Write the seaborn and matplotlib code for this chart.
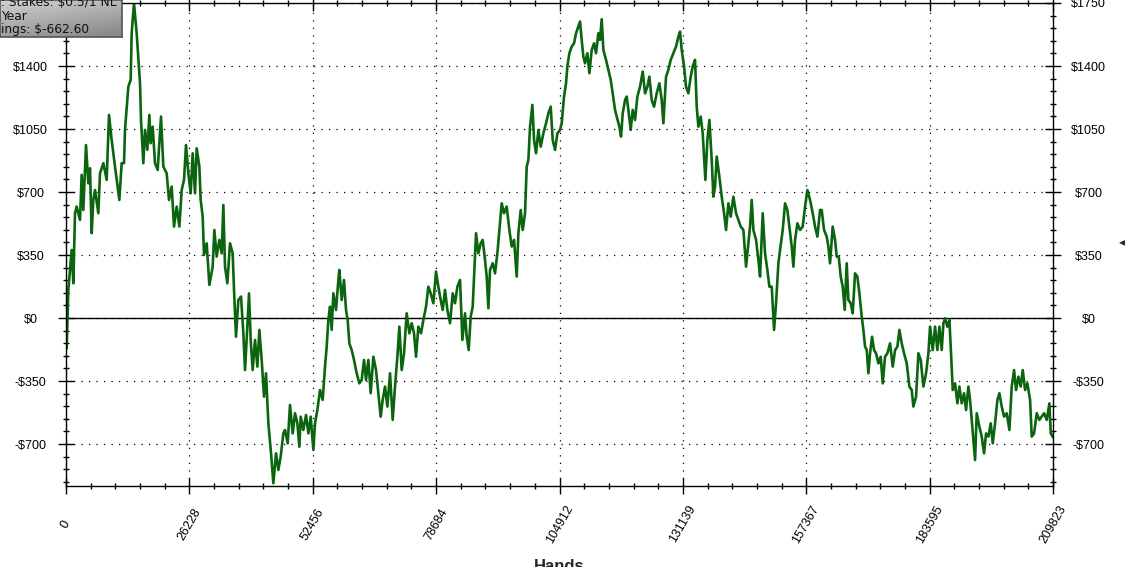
import matplotlib
matplotlib.use("Agg")
import numpy as np
import pandas as pd
import matplotlib.pyplot as plt
import seaborn as sns

# cumulative winnings (hands played, dollars won)
hands = [
    0, 141, 496, 1204, 1559, 1913, 2268, 2976, 3331, 3685, 4252, 4748, 5102, 5457, 5811, 6165,
    6874, 7228, 7937, 8646, 9142, 9709, 10418, 11339, 11835, 12331, 12544, 13252, 13748, 13961,
    14457, 15024, 15733, 15945, 16442, 16796, 17292, 17717, 18001, 18426, 18922, 19489, 20198,
    20694, 21402, 21898, 22465, 22962, 23529, 24096, 24592, 25088, 25513, 26009, 26506, 26931,
    27427, 27781, 28348, 28631, 29056, 29340, 29907, 30474, 31182, 31537, 32033, 32600, 33096,
    33450, 33805, 34301, 34868, 35435, 35718, 36143, 36639, 37206, 37703, 38057, 38553, 38907,
    39262, 39687, 40183, 40680, 41105, 41601, 42097, 42522, 43020, 43587, 44081, 44648, 45144,
    45640, 46207, 46561, 47128, 47624, 48191, 48687, 49183, 49609, 49892, 50459, 51026, 51522,
    52018, 52585, 52940, 53436, 54003, 54567, 55063, 55418, 55772, 56126, 56481, 56835, 57402,
    57898, 58111, 58607, 59103, 59528, 59882, 60237, 60733, 61229, 61796, 62363, 62859, 63355,
    63780, 64276, 64772, 65339, 65906, 66402, 66898, 67324, 67820, 68316, 68883, 69450, 69946,
    70442, 70867, 71363, 71859, 72426, 72993, 73489, 73985, 74411, 74907, 75474, 75970, 76537,
    77033, 77529, 78096, 78663, 79159, 79655, 80080, 80576, 81072, 81639, 82206, 82702, 83199,
    83766, 84262, 84829, 85183, 85608, 86033, 86459, 86742, 87167, 87663, 88159, 88585, 89081,
    89435, 89790, 90144, 90711, 91207, 91703, 92128, 92625, 93121, 93688, 94254, 94750, 95246,
    95813, 96168, 96664, 97089, 97585, 97940, 98294, 98648, 99144, 99499, 99924, 100420, 100916,
    101483, 102050, 102546, 103042, 103467, 103963, 104460, 105027, 105378, 105874, 106300,
    106583, 107008, 107504, 108001, 108426, 108922, 109276, 109631, 109985, 110339, 110835,
    111261, 111757, 112253, 112678, 113174, 113528, 113883, 114237, 114804, 115300, 115796,
    116221, 116718, 117072, 117639, 117993, 118348, 118844, 119198, 119552, 120048, 120474,
    120970, 121466, 122033, 122600, 123096, 123592, 124017, 124513, 125009, 125576, 126143,
    126639, 126994, 127561, 128057, 128553, 129120, 129687, 130183, 130537, 130892, 131388,
    131813, 132309, 132805, 133230, 133726, 134081, 134435, 134931, 135356, 135640, 135923,
    136349, 136774, 137270, 137624, 137979, 138333, 138900, 139396, 139892, 140317, 140813,
    141309, 141876, 142443, 142939, 143436, 144003, 144569, 145066, 145420, 145774, 146129,
    146696, 147192, 147546, 148113, 148609, 149105, 149530, 150027, 150523, 150948, 151444,
    151798, 152365, 152861, 153357, 153783, 154279, 154633, 154988, 155484, 156050, 156617,
    157113, 157610, 158177, 158743, 159240, 159736, 160303, 160654, 161151, 161718, 162072,
    162426, 162993, 163489, 163844, 164269, 164694, 165119, 165544, 165970, 166324, 166820,
    167245, 167741, 168238, 168663, 169159, 169513, 169868, 170222, 170576, 170931, 171356,
    171781, 172206, 172702, 173198, 173624, 174120, 174616, 175183, 175750, 176246, 176742,
    177167, 177663, 178159, 178726, 179293, 179789, 180144, 180711, 181207, 181703, 182270,
    182837, 183333, 183687, 184254, 184750, 185246, 185672, 186168, 186522, 186876, 187372,
    187798, 188081, 188506, 189002, 189499, 189924, 190420, 190916, 191341, 191837, 192192,
    192546, 192900, 193255, 193609, 194176, 194672, 195168, 195593, 196090, 196586, 197011,
    197507, 198003, 198428, 198924, 199420, 199987, 200554, 201050, 201546, 201972, 202468,
    202964, 203389, 203885, 204381, 204948, 205302, 205798, 206366, 206932, 207429, 207925,
    208492, 209059, 209342, 209823,
]
winnings = [
    0, -168, 156, 378, 193, 582, 619, 545, 795, 600, 961, 748, 832, 471, 656, 711,
    582, 804, 860, 767, 1128, 989, 841, 656, 860, 860, 1045, 1285, 1323, 1582,
    1748, 1582, 1304, 1100, 860, 1045, 934, 1128, 971, 1063, 860, 823, 1119,
    841, 804, 656, 730, 508, 619, 508, 711, 767, 961, 804, 693, 915,
    693, 943, 841, 656, 563, 350, 415, 184, 285, 489, 341, 434, 359,
    628, 285, 193, 415, 359, 156, -104, 100, 119, -85, -289, -48, 137,
    -122, -289, -122, -270, -66, -233, -437, -307, -585, -752, -918, -752, -844,
    -770, -641, -622, -696, -483, -641, -529, -585, -715, -548, -622, -539, -641,
    -548, -733, -585, -511, -400, -455, -270, -159, -11, 63, -66, 137, 45,
    211, 267, 100, 211, 45, -11, -141, -178, -233, -307, -363, -344, -233,
    -344, -233, -418, -215, -289, -418, -548, -455, -381, -492, -307, -566, -381,
    -215, -48, -289, -196, 26, -85, -29, -85, -215, -48, -85, -11, 63,
    174, 137, 82, 258, 174, 100, 45, 156, 45, -29, 137, 82, 174,
    211, -122, 26, -104, -178, 8, 63, 230, 471, 359, 415, 434, 322,
    230, 54, 267, 304, 248, 359, 489, 637, 582, 619, 489, 397, 434,
    230, 471, 600, 489, 582, 841, 878, 1063, 1184, 989, 915, 1045, 952,
    1026, 1082, 1137, 1174, 989, 934, 1026, 1045, 1082, 1230, 1304,
    1397, 1471, 1508, 1526, 1582, 1619, 1647, 1545, 1452, 1415, 1471,
    1360, 1489, 1526, 1471, 1582, 1545, 1660, 1489, 1434, 1378, 1323,
    1248, 1156, 1119, 1063, 1008, 1137, 1211, 1230, 1156, 1045, 1156,
    1100, 1230, 1285, 1369, 1248, 1285, 1341, 1211, 1174, 1248, 1304,
    1211, 1082, 1341, 1378, 1434, 1471, 1508, 1563, 1591, 1489, 1397,
    1285, 1248, 1341, 1397, 1434, 1174, 1063, 1119, 1026, 897, 767,
    989, 1100, 878, 674, 730, 897, 785, 674, 582, 489, 637,
    563, 674, 582, 545, 508, 489, 285, 415, 508, 656, 489,
    434, 322, 230, 582, 359, 267, 174, 174, -66, 82, 304,
    378, 489, 637, 600, 508, 397, 285, 434, 526, 489, 508,
    619, 711, 656, 582, 508, 452, 600, 600, 489, 452, 397,
    304, 508, 434, 341, 341, 230, 174, 45, 304, 100, 82,
    26, 248, 230, 137, 8, -66, -159, -178, -307, -196, -104,
    -178, -196, -252, -215, -363, -215, -196, -141, -270, -178, -159,
    -66, -141, -196, -252, -381, -400, -492, -437, -196, -233, -381,
    -307, -196, -48, -178, -48, -178, -48, -178, -29, -2, -48,
    -11, -159, -400, -363, -474, -381, -474, -418, -511, -381, -455,
    -566, -678, -789, -529, -604, -659, -752, -641, -659, -585, -696,
    -585, -455, -418, -492, -548, -529, -622, -381, -289, -400, -326,
    -381, -289, -400, -363, -455, -659, -641, -529, -566, -548, -529,
    -566, -474, -641, -662.6,
]

x_ticks = [0, 26228, 52456, 78684, 104912, 131139, 157367, 183595, 209823]
x_labels = ["0", "26228", "52456", "78684", "104912", "131139", "157367", "183595", "209823"]
y_ticks = [-700, -350, 0, 350, 700, 1050, 1400, 1750]
y_labels = ["-$700", "-$350", "$0", "$350", "$700", "$1050", "$1400", "$1750"]
info_lines = [": Stakes: $0.5/1 NL", "Year", "ings: $-662.60"]

df = pd.DataFrame({"Hands": hands, "Winnings": winnings})

sns.set_theme(style="white")
plt.rcParams["font.family"] = ["Liberation Sans", "DejaVu Sans"]

fig = plt.figure(figsize=(11.25, 5.67), dpi=100)
ax = fig.add_axes([66 / 1125, 1 - 486 / 567, (1053 - 66) / 1125, (486 - 3) / 567])

sns.lineplot(data=df, x="Hands", y="Winnings", ax=ax, color="#0b650f", linewidth=1.9)
ax.axhline(0, color="black", linewidth=1, zorder=1)

ax.set_xlim(0, 209823)
ax.set_ylim(-933.3, 1750)
ax.set_xticks(x_ticks)
ax.set_xticklabels(x_labels)
ax.set_yticks(y_ticks)
ax.set_yticklabels(y_labels)
ax.set_xticks(np.arange(0, 209824, 209823 / 40), minor=True)
ax.set_yticks(np.arange(-910, 1751, 70), minor=True)

ax.grid(True, which="major", color="black", linestyle=(0, (1, 5)), linewidth=0.9)
for s in ax.spines.values():
    s.set_color("black")
    s.set_linewidth(1)

ax.tick_params(axis="both", which="major", direction="inout", length=11, width=1,
               color="black", labelsize=9, labelcolor="black")
ax.tick_params(axis="both", which="minor", direction="inout", length=5, width=1, color="black")
ax.tick_params(axis="y", which="both", left=True, right=True, labelright=True, pad=20)
ax.tick_params(axis="x", which="both", bottom=True, top=True, pad=22)

for t in ax.yaxis.get_major_ticks():
    t.label1.set_ha("center")
    t.label2.set_ha("center")
for t in ax.xaxis.get_major_ticks():
    t.label1.set_rotation(60)
    t.label1.set_ha("center")
    t.label1.set_va("center")

ax.set_xlabel("")
ax.set_ylabel("")
fig.text(559.5 / 1125, 1 - 559 / 567, "Hands", ha="center", va="top",
         fontsize=12, fontweight="bold")
fig.text(1122 / 1125, 1 - 243 / 567, "◀", ha="center", va="center", fontsize=6,
         family="DejaVu Sans")

# gray info box in the top-left corner
box = fig.add_axes([0, 1 - 37 / 567, 122 / 1125, 37 / 567])
gy, gx = np.mgrid[0:1:40j, 0:1:120j]
grad = 0.82 - 0.2 * gy - 0.1 * gx
box.imshow(grad, cmap="gray", vmin=0, vmax=1, aspect="auto", extent=[0, 122, 37, 0])
box.set_xlim(0, 122)
box.set_ylim(37, 0)
box.set_xticks([])
box.set_yticks([])
for s in box.spines.values():
    s.set_color("#555555")
    s.set_linewidth(1.2)
for i, line in enumerate(info_lines):
    box.text(1, 6 + 13.5 * i, line, ha="left", va="baseline", fontsize=8.8,
             family="DejaVu Sans", color="#111111", clip_on=True)

fig.savefig("out.png", dpi=100)
